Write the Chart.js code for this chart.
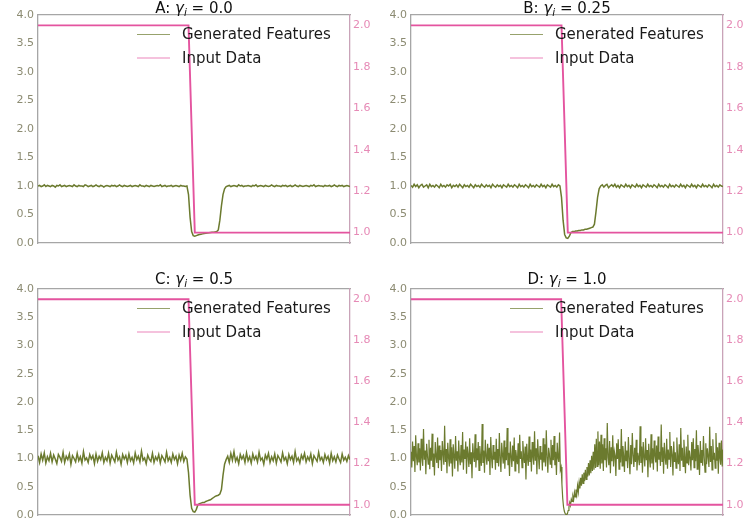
<!DOCTYPE html>
<html>
<head>
<meta charset="utf-8">
<script src="https://cdn.jsdelivr.net/npm/chart.js@4/dist/chart.umd.min.js"></script>
<style>
  html, body { margin: 0; padding: 0; background: #fff; width: 746px; height: 529px; overflow: hidden; }
  canvas { position: absolute; }
</style>
</head>
<body>
<canvas id="cA" width="373" height="264" style="left:0px;top:0px"></canvas>
<canvas id="cB" width="373" height="264" style="left:373px;top:0px"></canvas>
<canvas id="cC" width="373" height="265" style="left:0px;top:264px"></canvas>
<canvas id="cD" width="373" height="265" style="left:373px;top:264px"></canvas>
<script>
// ---------- DATA ----------
const panelLetters = ['A', 'B', 'C', 'D'];
const gammaValues = ['0.0', '0.25', '0.5', '1.0'];
const seriesLabels = ['Generated Features', 'Input Data'];
const leftTicks = [0.0, 0.5, 1.0, 1.5, 2.0, 2.5, 3.0, 3.5, 4.0];
const rightTicks = [1.0, 1.2, 1.4, 1.6, 1.8, 2.0];

// input step (same for all panels), sample index vs value
const inputX = [0, 96, 100, 199.5];
const inputY = [2.0, 2.0, 1.0, 1.0];

// sample spacing of each generated series (in sample-index units)
const sampleStep = [1, 1, 1, 0.5];

// generated features
const genA = [
1.00,1.01,0.99,1.00,1.02,0.99,1.01,1.00,0.99,1.01,1.00,0.98,
1.01,1.00,1.02,0.99,1.00,1.01,0.99,1.00,1.01,1.00,0.99,1.02,
1.00,0.99,1.01,1.00,1.00,0.99,1.02,1.01,0.99,1.00,1.01,0.99,
1.00,1.02,1.00,0.99,1.01,1.00,0.98,1.00,1.01,1.00,0.99,1.01,
1.00,1.01,0.99,1.00,1.02,1.00,0.99,1.01,1.00,0.99,1.00,1.01,
0.99,1.00,1.01,1.00,0.99,1.02,1.00,1.00,0.99,1.01,1.00,0.99,
1.01,1.00,0.99,1.00,1.01,1.00,1.02,0.99,1.00,1.01,0.99,1.00,
1.00,1.01,0.99,1.00,1.01,1.00,0.99,1.01,1.00,1.00,0.99,1.00,
0.85,0.45,0.20,0.13,0.12,0.13,0.14,0.15,0.155,0.16,0.165,0.17,0.175,0.18,0.185,0.19,0.19,0.195,0.20,0.23,0.40,0.65,0.85,0.95,0.99,
1.00,1.01,0.99,1.00,1.01,1.00,0.99,1.02,1.00,1.01,0.99,1.00,
1.00,1.01,1.00,0.99,1.01,1.00,1.02,0.99,1.00,1.01,1.00,0.99,
1.01,1.00,0.99,1.00,1.02,1.00,0.99,1.01,1.00,1.00,0.99,1.01,
1.00,1.01,0.99,1.00,1.01,0.99,1.00,1.02,1.00,0.99,1.01,1.00,
0.99,1.00,1.01,1.00,0.99,1.01,1.00,1.02,0.99,1.00,1.01,1.00,
1.00,0.99,1.01,1.00,1.00,1.01,0.99,1.00,1.02,1.00,0.99,1.01,
1.00,1.01,0.99,1.00,1.01,1.00,0.99
];
const genB = [
1.01,0.98,1.03,0.99,1.02,0.97,1.01,1.03,0.98,1.00,1.02,0.97,
1.03,0.99,1.01,0.98,1.02,1.00,0.97,1.03,0.99,1.01,0.98,1.02,
1.00,1.03,0.97,1.01,0.99,1.02,0.98,1.03,1.00,0.97,1.02,0.99,
1.01,0.98,1.03,1.00,0.97,1.02,0.99,1.01,0.98,1.03,1.00,0.98,
1.02,0.99,1.01,0.97,1.03,1.00,0.98,1.02,0.99,1.01,0.97,1.02,
1.00,0.98,1.03,0.99,1.01,0.98,1.02,1.00,0.97,1.03,0.99,1.01,
0.98,1.02,1.00,0.97,1.03,0.99,1.01,0.98,1.02,1.00,0.98,1.03,
0.99,1.01,0.97,1.02,1.00,0.98,1.03,0.99,1.01,0.98,1.02,1.00,
0.80,0.40,0.15,0.09,0.08,0.12,0.18,0.20,0.20,0.21,0.21,0.22,0.22,0.23,0.23,0.24,0.24,0.25,0.26,0.27,0.28,0.33,0.55,0.80,0.95,1.00,
1.02,0.98,1.01,1.03,0.97,1.00,1.02,0.99,1.03,0.98,1.01,0.97,
1.02,1.00,0.98,1.03,0.99,1.01,0.97,1.02,1.00,0.98,1.03,0.99,
1.01,0.97,1.02,1.00,0.98,1.03,0.99,1.01,0.98,1.02,1.00,0.97,
1.03,0.99,1.01,0.98,1.02,1.00,0.97,1.03,0.99,1.01,0.98,1.02,
1.00,0.98,1.03,0.99,1.01,0.97,1.02,1.00,0.98,1.03,0.99,1.01,
0.97,1.02,1.00,0.98,1.03,0.99,1.01,0.98,1.02,1.00,0.97,1.03,
0.99,1.01,0.98,1.02,1.00,0.99
];
const genC = [
1.05,0.93,1.08,0.97,1.10,0.92,1.03,0.96,1.09,0.94,1.06,0.99,
0.91,1.07,1.02,0.95,1.11,0.93,1.04,0.98,1.08,0.90,1.05,1.00,
0.94,1.09,0.96,1.03,0.92,1.12,0.97,1.01,0.93,1.07,0.99,1.05,
0.91,1.08,0.95,1.04,0.98,1.10,0.93,1.02,0.96,1.09,0.92,1.06,
1.00,0.94,1.11,0.97,1.03,0.90,1.07,0.99,1.05,0.93,1.08,0.96,
1.02,0.92,1.10,0.98,1.04,0.94,1.13,0.97,1.01,0.91,1.06,0.99,
0.95,1.09,0.93,1.03,0.97,1.07,0.92,1.05,1.00,0.94,1.11,0.96,
1.02,0.93,1.08,0.98,1.04,0.91,1.06,0.97,1.09,0.95,1.03,0.99,
0.75,0.35,0.12,0.06,0.05,0.10,0.18,0.20,0.21,0.22,0.22,0.24,0.25,0.26,0.27,0.29,0.31,0.33,0.34,0.35,0.37,0.45,0.70,0.90,0.98,
1.04,0.93,1.09,0.97,1.12,0.95,1.02,0.91,1.07,0.99,1.05,0.93,
1.10,0.96,1.03,0.92,1.08,0.98,1.04,0.94,1.11,0.97,1.01,0.90,
1.06,0.99,1.09,0.93,1.03,0.96,1.08,0.92,1.05,1.00,0.94,1.10,
0.97,1.02,0.91,1.07,0.98,1.04,0.93,1.12,0.96,1.01,0.92,1.06,
0.99,1.09,0.94,1.03,0.97,1.08,0.91,1.05,1.00,0.95,1.11,0.97,
1.02,0.93,1.07,0.98,1.04,0.92,1.09,0.96,1.03,0.94,1.06,0.99,
0.93,1.08,0.97,1.02,0.95,1.05,0.98
];
const genD = [
1.12,0.84,1.30,0.95,1.22,0.76,1.41,1.03,0.88,1.27,0.93,1.18,
0.79,1.35,1.01,0.87,1.52,0.98,1.14,0.72,1.26,1.06,0.90,1.33,
0.81,1.19,0.96,1.44,0.85,1.09,0.70,1.29,1.04,0.92,1.37,0.83,
1.23,0.97,1.15,0.78,1.31,1.08,0.89,1.58,0.94,1.17,0.74,1.28,
1.02,0.86,1.34,0.91,1.20,0.68,1.25,1.05,0.82,1.40,0.96,1.13,
0.77,1.32,1.00,0.88,1.24,0.93,1.47,0.80,1.16,0.99,1.30,0.73,
1.21,1.07,0.85,1.36,0.90,1.11,0.65,1.27,1.03,0.94,1.43,0.84,
1.18,0.97,1.29,0.79,1.22,1.01,0.87,1.61,0.92,1.14,0.75,1.33,
1.05,0.89,1.26,0.95,1.19,0.71,1.38,1.02,0.83,1.24,0.98,1.12,
0.80,1.35,0.93,1.17,0.86,1.45,1.00,0.76,1.28,1.06,0.91,1.32,
0.82,1.20,0.97,1.54,0.88,1.10,0.69,1.30,1.04,0.85,1.23,0.95,
1.37,0.78,1.15,1.01,0.90,1.27,0.74,1.42,0.99,1.13,0.84,1.31,
1.07,0.92,1.21,0.63,1.26,1.00,0.87,1.39,0.94,1.16,0.77,1.29,
1.03,0.89,1.48,0.96,1.18,0.72,1.34,1.05,0.81,1.22,0.98,1.11,
0.79,1.36,0.93,1.25,0.86,1.50,1.02,0.75,1.19,1.08,0.90,1.33,
0.83,1.24,0.97,1.40,0.88,1.12,0.71,1.28,1.01,0.94,1.46,0.80,
0.85,0.55,0.30,0.15,0.07,0.03,0.01,0.00,0.02,0.08,
0.14,0.22,0.17,0.28,0.24,0.33,0.27,0.40,0.32,0.45,
0.36,0.52,0.41,0.58,0.47,0.66,0.52,0.72,0.56,0.75,
0.60,0.80,0.63,0.85,0.68,0.92,0.70,0.97,0.74,1.05,
0.78,1.12,0.80,1.25,0.83,1.35,0.86,1.48,0.88,1.30,
0.82,1.42,
0.91,1.25,0.78,1.36,0.97,1.18,0.84,1.63,1.02,0.88,1.31,0.74,
1.20,0.95,1.41,0.86,1.13,1.05,0.69,1.27,0.99,1.34,0.81,1.17,
0.93,1.52,0.87,1.22,1.04,0.76,1.30,0.96,1.14,0.83,1.38,1.00,
0.72,1.24,0.90,1.45,1.06,0.85,1.19,0.94,1.33,0.79,1.10,1.01,
0.88,1.57,0.92,1.21,0.75,1.29,1.03,0.86,1.36,0.97,1.15,0.67,
1.26,1.00,0.84,1.43,0.91,1.18,0.80,1.32,1.05,0.93,1.23,0.77,
1.39,0.98,1.12,0.87,1.60,0.95,1.20,0.73,1.28,1.02,0.89,1.35,
0.82,1.16,0.99,1.47,0.85,1.22,1.07,0.70,1.30,0.94,1.11,0.83,
1.37,1.00,0.90,1.25,0.78,1.54,0.96,1.19,0.86,1.33,1.04,0.74,
1.21,0.92,1.42,0.88,1.14,1.01,0.79,1.29,0.97,1.36,0.84,1.17,
0.95,1.50,0.81,1.24,1.06,0.71,1.31,0.93,1.15,0.87,1.40,1.02,
0.76,1.27,0.90,1.18,1.03,0.85,1.56,0.94,1.22,0.80,1.34,0.98,
1.10,0.83,1.45,0.96,1.20,0.73,1.28,1.01,0.89,1.32,0.86,1.16
];
const generated = [genA, genB, genC, genD];

// ---------- STYLE ----------
const GREEN = '#6b7a2e';
const PINK = '#e4549f';
const LEFT_TICK = '#8c8b72';
const RIGHT_TICK = '#e68ab6';
const SPINE = '#a6a6a6';
const FONT = 'DejaVu Sans';
const greenWidth = [1.5, 1.5, 1.5, 1.2];

function titlePlugin(letter, gamma, offset) {
  return {
    id: 'mtitle',
    afterDraw(chart) {
      const ctx = chart.ctx, a = chart.chartArea;
      const parts = [
        { t: letter + ': ', f: `15px "${FONT}"`, dy: 0 },
        { t: 'γ', f: `italic 15px "${FONT}"`, dy: 0 },
        { t: 'i', f: `italic 10.5px "${FONT}"`, dy: 3 },
        { t: ' = ' + gamma, f: `15px "${FONT}"`, dy: 0 }
      ];
      ctx.save();
      let w = 0;
      parts.forEach(p => { ctx.font = p.f; p.w = ctx.measureText(p.t).width; w += p.w; });
      let x = (a.left + a.right) / 2 - w / 2;
      const y = a.top - offset;
      ctx.fillStyle = '#111';
      ctx.textBaseline = 'alphabetic';
      ctx.textAlign = 'left';
      parts.forEach(p => { ctx.font = p.f; ctx.fillText(p.t, x, y + p.dy); x += p.w; });
      ctx.restore();
    }
  };
}

const legendPlugin = {
  id: 'mlegend',
  afterDraw(chart) {
    const ctx = chart.ctx, a = chart.chartArea;
    const items = [
      { label: chart.data.datasets[1].label, color: GREEN, dy: 19.5 },
      { label: chart.data.datasets[0].label, color: PINK, dy: 43 }
    ];
    ctx.save();
    ctx.font = `15px "${FONT}"`;
    ctx.textBaseline = 'middle';
    ctx.textAlign = 'left';
    items.forEach(it => {
      const y = a.top + it.dy;
      ctx.strokeStyle = it.color;
      ctx.globalAlpha = 0.7;
      ctx.lineWidth = 1.2;
      ctx.beginPath();
      ctx.moveTo(a.left + 99, y);
      ctx.lineTo(a.left + 132, y);
      ctx.stroke();
      ctx.globalAlpha = 1;
      ctx.fillStyle = '#1a1a1a';
      ctx.fillText(it.label, a.left + 144, y + 1);
    });
    ctx.restore();
  }
};

function makeChart(idx) {
  const canvas = document.getElementById('c' + panelLetters[idx]);
  const top = idx < 2 ? 15 : 25;
  const bottomH = idx < 2 ? 21 : 14;
  const titleOff = idx < 2 ? 2 : 5;
  const gen = generated[idx];
  const step = sampleStep[idx];
  const genPts = gen.map((v, i) => ({ x: i * step, y: v }));
  const inPts = inputX.map((x, i) => ({ x: x, y: inputY[i] }));
  const xMax = (gen.length - 1) * step;
  return new Chart(canvas, {
    type: 'line',
    data: {
      datasets: [
        { label: seriesLabels[1], data: inPts, yAxisID: 'y2', borderColor: PINK, borderWidth: 1.9, pointRadius: 0, tension: 0, order: 0 },
        { label: seriesLabels[0], data: genPts, yAxisID: 'y', borderColor: GREEN, borderWidth: greenWidth[idx], pointRadius: 0, tension: 0, order: 1 }
      ]
    },
    options: {
      responsive: false,
      animation: false,
      devicePixelRatio: 1,
      layout: { padding: { top: top, left: 0, right: 0, bottom: 0 } },
      plugins: { legend: { display: false }, title: { display: false }, tooltip: { enabled: false } },
      scales: {
        x: {
          type: 'linear', position: 'bottom', min: 0, max: xMax,
          ticks: { display: false }, grid: { display: false, drawTicks: false },
          border: { display: true, color: SPINE, width: 1.3 },
          afterFit(s) { s.height = bottomH; }
        },
        xTop: {
          type: 'linear', position: 'top', min: 0, max: xMax,
          ticks: { display: false }, grid: { display: false, drawTicks: false },
          border: { display: true, color: SPINE, width: 1.3 },
          afterFit(s) { s.height = 0; }
        },
        y: {
          type: 'linear', position: 'left', min: 0, max: 4,
          grid: { display: false, drawTicks: false },
          border: { display: true, color: SPINE, width: 1.3 },
          ticks: { color: LEFT_TICK, font: { family: FONT, size: 11 }, padding: 4, callback: v => Number(v).toFixed(1) },
          afterBuildTicks(s) { s.ticks = leftTicks.map(v => ({ value: v })); },
          afterFit(s) { s.width = 38; }
        },
        y2: {
          type: 'linear', position: 'right', min: 0.95, max: 2.05,
          grid: { display: false, drawTicks: false },
          border: { display: true, color: '#c9a3b8', width: 1.3 },
          ticks: { color: RIGHT_TICK, font: { family: FONT, size: 11 }, padding: 3, callback: v => Number(v).toFixed(1) },
          afterBuildTicks(s) { s.ticks = rightTicks.map(v => ({ value: v })); },
          afterFit(s) { s.width = 23; }
        }
      }
    },
    plugins: [titlePlugin(panelLetters[idx], gammaValues[idx], titleOff), legendPlugin]
  });
}
[0, 1, 2, 3].forEach(makeChart);
</script>
</body>
</html>
